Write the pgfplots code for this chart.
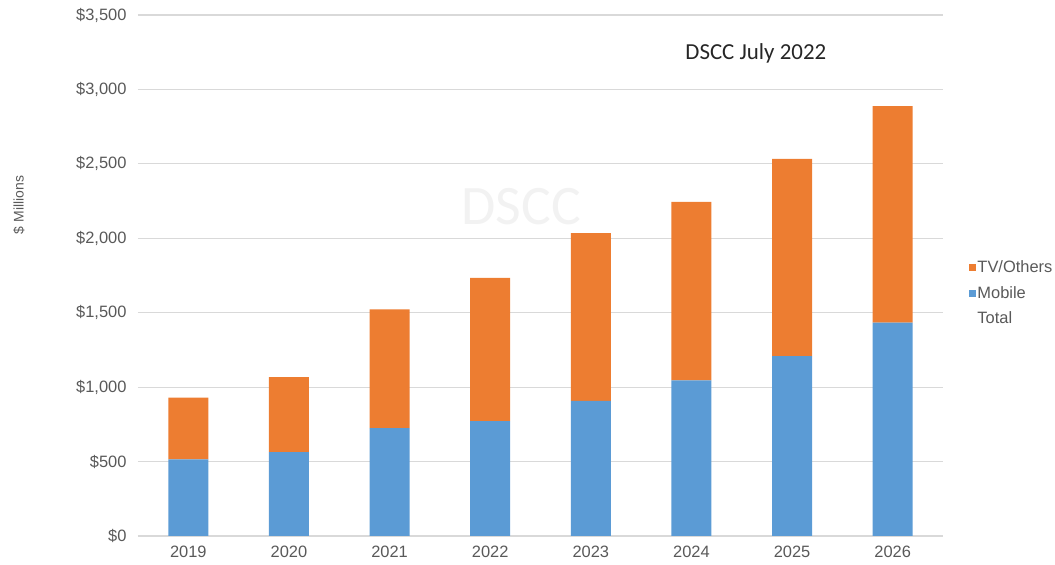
\documentclass[border=0pt]{standalone}
\usepackage{pgfplots}
\pgfplotsset{compat=1.18}
\usepackage{fontspec}
\setmainfont{Liberation Sans}
\newfontfamily\calibri{Carlito}
\definecolor{tvorange}{HTML}{ED7D31}
\definecolor{mobblue}{HTML}{5B9BD5}
\definecolor{gridgray}{HTML}{D9D9D9}
\definecolor{txtgray}{HTML}{595959}
\begin{document}
\begin{tikzpicture}[x=1bp,y=1bp]
\begin{axis}[
  at={(0,0)}, anchor=south west,
  scale only axis, width=805bp, height=521bp,
  ybar stacked, bar width=40bp,
  xmin=-0.5, xmax=7.5, ymin=0, ymax=3500,
  xtick={0,...,7},
  xticklabels={2019,2020,2021,2022,2023,2024,2025,2026},
  ytick={0,500,...,3500},
  yticklabel={\$\pgfmathprintnumber{\tick}},
  /pgf/number format/.cd, 1000 sep={,}, assume math mode=true, /pgfplots/.cd,
  axis line style={draw=none},
  major tick length=0,
  ymajorgrids, grid style={gridgray, line width=1.2bp},
  ticklabel style={font=\fontsize{16.5}{19}\selectfont, text=txtgray},
  xticklabel style={yshift=-7bp},
  yticklabel style={xshift=-8bp},
  legend style={at={(1.032,0.532)}, anchor=north west, draw=none, fill=none,
    font=\fontsize{16.5}{19}\selectfont, text=txtgray, row sep=8bp,
    inner xsep=0pt, inner ysep=0pt, nodes={inner xsep=1.5bp}},
  legend cell align=left,
  reverse legend,
  legend image code/.code={\fill[#1] (0bp,-3.5bp) rectangle (7bp,3.5bp);},
  clip=false,
]
\addlegendimage{legend image code/.code={}}
\addlegendentry{Total}
\addplot[fill=mobblue, draw=none] coordinates {(0,515) (1,563) (2,724) (3,771) (4,908) (5,1045) (6,1209) (7,1433)};
\addlegendentry{Mobile}
\addplot[fill=tvorange, draw=none] coordinates {(0,415) (1,504) (2,799) (3,963) (4,1126) (5,1200) (6,1325) (7,1454)};
\addlegendentry{TV/Others}
\node[font=\calibri\fontsize{56}{60}\selectfont, text=black!5] at (axis cs:3.31,2215) {DSCC};
\node[font=\calibri\fontsize{23}{27}\selectfont, text=black!85] at (axis cs:5.64,3245) {DSCC July 2022};
\end{axis}
\node[rotate=90,font=\fontsize{14}{16}\selectfont,text=txtgray] at (-119,331) {\$ Millions};
\path (-138,-29) rectangle (917,536);
\end{tikzpicture}
\end{document}
